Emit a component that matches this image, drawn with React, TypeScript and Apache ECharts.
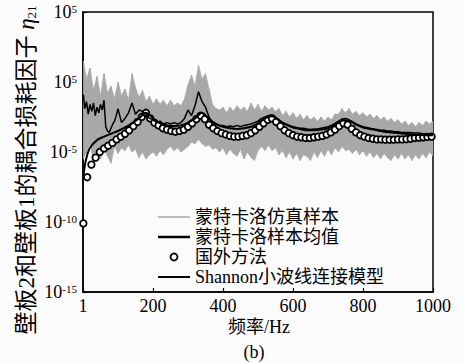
import React, { useEffect, useRef } from 'react';
import * as echarts from 'echarts';

const FONT = "'Liberation Serif', 'Times New Roman', 'Noto Sans CJK SC', serif";

// ---- axis ticks ----
const xTickValues = [0, 200, 400, 600, 800, 1000];
const xTickLabels = ['1', '200', '400', '600', '800', '1000'];
const yTickValues = [-15, -10, -5, 0, 5];
const yTickExps = ['-15', '-10', '-5', '5', '5'];

// ---- Monte Carlo sample band (log10 values) ----
const freqBand = [1, 10, 20, 30, 40, 50, 60, 70, 80, 90, 100, 110, 120, 130, 140, 150, 160, 170, 180, 190,
  200, 210, 220, 230, 240, 250, 260, 270, 280, 290, 300, 310, 320, 330, 340, 350, 360, 370, 380, 390,
  400, 410, 420, 430, 440, 450, 460, 470, 480, 490, 500, 510, 520, 530, 540, 550, 560, 570, 580, 590,
  600, 610, 620, 630, 640, 650, 660, 670, 680, 690, 700, 710, 720, 730, 740, 750, 760, 770, 780, 790,
  800, 810, 820, 830, 840, 850, 860, 870, 880, 890, 900, 910, 920, 930, 940, 950, 960, 970, 980, 990, 1000];
const bandUpper = [1.5, 0.2, 1.0, -0.6, 0.4, -1.0, 0.6, -0.8, -0.3, -1.2,
  0.0, -1.0, -0.5, -1.3, 0.6, -0.4, -1.1, -0.6, -1.4, -1.0,
  -1.6, -1.2, -1.6, -1.3, -1.7, -1.3, -1.7, -1.5, -1.7, -1.2,
  -0.2, 0.5, -0.3, 1.2, 0.2, 0.6, -0.5, -1.6, -1.9, -2.0,
  -1.8, -2.2, -1.8, -2.1, -1.7, -2.0, -1.8, -2.1, -1.5, -2.0,
  -1.6, -2.1, -1.7, -2.0, -1.8, -2.1, -1.9, -2.4, -2.1, -2.5,
  -2.2, -2.6, -2.3, -2.7, -2.4, -2.7, -2.5, -2.8, -2.5, -2.8,
  -2.5, -2.7, -2.3, -2.3, -1.9, -2.2, -1.9, -2.3, -2.1, -2.4,
  -2.2, -2.5, -2.3, -2.6, -2.4, -2.7, -2.5, -2.8, -2.6, -2.9,
  -2.7, -3.0, -2.8, -3.1, -2.9, -3.2, -2.9, -3.1, -2.8, -3.0, -2.8];
const bandLower = [-5.5, -5.0, -4.4, -5.8, -5.0, -5.5, -4.8, -5.3, -5.8, -4.6,
  -5.1, -4.7, -4.9, -4.5, -5.0, -4.8, -5.4, -5.0, -5.5, -5.2,
  -5.0, -5.3, -4.9, -5.2, -4.8, -4.6, -4.9, -4.7, -5.0, -4.8,
  -4.6, -4.3, -4.4, -4.1, -4.4, -4.6, -4.5, -4.8, -4.7, -5.0,
  -4.7, -5.2, -4.8, -5.1, -5.3, -4.8, -5.5, -5.0, -5.4, -5.6,
  -4.9, -4.6, -4.9, -4.5, -4.9, -4.7, -5.2, -4.9, -5.4, -5.0,
  -5.5, -5.1, -5.6, -5.2, -5.3, -5.6, -5.0, -5.4, -4.9, -5.3,
  -4.8, -5.2, -4.7, -5.0, -4.6, -4.9, -4.8, -5.1, -4.8, -5.2,
  -4.9, -5.3, -5.0, -5.4, -5.1, -5.5, -5.1, -5.4, -5.6, -5.2,
  -5.5, -5.1, -5.5, -5.2, -5.6, -5.2, -5.5, -5.1, -5.4, -5.0, -5.3];

// ---- Monte Carlo mean ----
const freqMean = [1, 5, 10, 15, 20, 25, 30, 35, 40, 45, 50, 55, 60, 65, 70, 75, 80, 85, 90, 95, 100,
  110, 120, 130, 140, 150, 160, 170, 180, 190,
  200, 210, 220, 230, 240, 250, 260, 270, 280, 290, 300, 310, 320, 330, 340, 350, 360, 370, 380, 390,
  400, 410, 420, 430, 440, 450, 460, 470, 480, 490, 500, 510, 520, 530, 540, 550, 560, 570, 580, 590,
  600, 610, 620, 630, 640, 650, 660, 670, 680, 690, 700, 710, 720, 730, 740, 750, 760, 770, 780, 790,
  800, 810, 820, 830, 840, 850, 860, 870, 880, 890, 900, 910, 920, 930, 940, 950, 960, 970, 980, 990, 1000];
const meanValues = [-0.9, -1.9, -1.4, -2.3, -1.6, -2.1, -1.5, -2.4, -1.8, -2.2, -1.6, -2.0, -1.3, -3.2, -3.5, -3.6, -3.3, -3.0, -2.8, -2.4, -1.9,
  -2.9, -2.6, -2.2, -1.5, -2.3, -2.0, -2.1, -2.3, -2.6,
  -2.7, -2.9, -2.8, -3.0, -2.9, -3.0, -2.9, -3.0, -2.9, -2.6,
  -2.0, -2.4, -1.7, -0.7, -1.4, -1.8, -2.5, -2.9, -3.0, -3.1,
  -3.1, -3.2, -3.15, -3.2, -3.1, -3.2, -3.1, -3.05, -3.0, -2.9,
  -2.8, -2.6, -2.5, -2.4, -2.35, -2.5, -2.7, -2.9, -3.0, -3.1,
  -3.2, -3.25, -3.3, -3.3, -3.35, -3.4, -3.35, -3.35, -3.3, -3.25,
  -3.2, -3.1, -2.95, -2.8, -2.65, -2.6, -2.7, -2.85, -3.0, -3.1,
  -3.2, -3.25, -3.3, -3.35, -3.4, -3.45, -3.45, -3.5, -3.5, -3.55,
  -3.55, -3.6, -3.6, -3.6, -3.62, -3.65, -3.65, -3.7, -3.7, -3.72, -3.72];

// ---- foreign method (circles) ----
const freqCircle = [1, 12, 24, 36, 48, 60, 72, 84, 96, 108, 120, 132, 144, 156, 168, 180, 192, 204, 216, 228,
  240, 252, 264, 276, 288, 300, 312, 324, 336, 348, 360, 372, 384, 396, 408, 420, 432, 444, 456, 468,
  480, 492, 504, 516, 528, 540, 552, 564, 576, 588, 600, 612, 624, 636, 648, 660, 672, 684, 696, 708,
  720, 732, 744, 756, 768, 780, 792, 804, 816, 828, 840, 852, 864, 876, 888, 900, 912, 924, 936, 948,
  960, 972, 984, 996];
const circleValues = [-10.1, -6.8, -5.9, -5.4, -5.0, -4.75, -4.55, -4.35, -4.1, -3.9,
  -3.7, -3.45, -3.15, -2.85, -2.5, -2.2, -2.6, -2.9, -3.1, -3.3,
  -3.4, -3.5, -3.55, -3.5, -3.4, -3.2, -2.95, -2.65, -2.4, -2.65,
  -3.05, -3.3, -3.5, -3.65, -3.75, -3.85, -3.9, -3.9, -3.85, -3.8,
  -3.65, -3.45, -3.2, -2.95, -2.7, -2.6, -2.85, -3.15, -3.45, -3.65,
  -3.8, -3.9, -3.95, -4.0, -4.0, -3.95, -3.9, -3.85, -3.75, -3.6,
  -3.4, -3.15, -2.95, -3.05, -3.35, -3.6, -3.8, -3.9, -4.0, -4.05,
  -4.1, -4.1, -4.12, -4.12, -4.12, -4.1, -4.1, -4.08, -4.05, -4.0,
  -3.98, -3.95, -3.92, -3.9];

// ---- Shannon wavelet model ----
const freqShannon = [1, 5, 10, 20, 40, 60, 80, 100, 120, 140, 160, 180, 200, 220, 240, 260, 280, 300, 320, 340,
  360, 380, 400, 420, 440, 460, 480, 500, 520, 540, 560, 580, 600, 620, 640, 660, 680, 700, 720, 740,
  760, 780, 800, 820, 840, 860, 880, 900, 920, 940, 960, 980, 1000];
const shannonValues = [-6.8, -6.0, -5.4, -4.7, -4.15, -3.9, -3.7, -3.5, -3.25, -2.95, -2.6, -2.2,
  -2.6, -2.95, -3.1, -3.15, -3.1, -2.9, -2.6, -2.2, -2.65, -3.0,
  -3.2, -3.3, -3.35, -3.3, -3.2, -2.95, -2.6, -2.45, -2.75, -3.05,
  -3.25, -3.35, -3.45, -3.45, -3.4, -3.3, -3.05, -2.75, -2.75, -3.05,
  -3.25, -3.35, -3.45, -3.55, -3.6, -3.65, -3.7, -3.75, -3.78, -3.8, -3.8];

const NAMES = ['蒙特卡洛仿真样本', '蒙特卡洛样本均值', '国外方法', 'Shannon小波线连接模型'];
const BAND_GRAY = '#a8a8a8';

export default function App() {
  const ref = useRef<HTMLDivElement>(null);
  useEffect(() => {
    document.body.style.margin = '0';
    const chart = echarts.init(ref.current as HTMLDivElement, null, { renderer: 'svg' });
    const zip = (xs: number[], ys: number[]) => xs.map((x, i) => [x, ys[i]]);
    const lineIcon = (t: number) => `path://M0,0L32,0L32,${t}L0,${t}Z`;
    chart.setOption({
      animation: false,
      backgroundColor: '#fbfbfb',
      textStyle: { fontFamily: FONT },
      grid: { left: 83, right: 30, top: 12, bottom: 71, show: true, borderColor: '#000', borderWidth: 1.5 },
      xAxis: {
        type: 'value', min: 0, max: 1000, interval: 200,
        axisLine: { show: true, onZero: false, lineStyle: { color: '#000', width: 1.5 } },
        axisTick: { show: true, inside: true, length: 4, lineStyle: { color: '#000', width: 1.2 } },
        splitLine: { show: false },
        axisLabel: {
          margin: 5, fontSize: 18, color: '#000', fontFamily: FONT,
          formatter: (v: number) => xTickLabels[xTickValues.indexOf(v)] ?? '',
        },
      },
      yAxis: {
        type: 'value', min: -15, max: 5, interval: 5,
        axisLine: { show: true, onZero: false, lineStyle: { color: '#000', width: 1.5 } },
        axisTick: { show: true, inside: true, length: 4, lineStyle: { color: '#000', width: 1.2 } },
        splitLine: { show: false },
        axisLabel: {
          margin: 6, color: '#000',
          formatter: (v: number) => `{b|10}{s|${yTickExps[yTickValues.indexOf(v)] ?? ''}}`,
          rich: {
            b: { fontSize: 18, fontFamily: FONT, color: '#000', lineHeight: 18 },
            s: { fontSize: 11, fontFamily: FONT, color: '#000', verticalAlign: 'top', lineHeight: 11 },
          },
        },
      },
      legend: {
        orient: 'vertical', left: 153, top: 202, itemGap: 0, itemWidth: 32, itemHeight: 7,
        selectedMode: false,
        textStyle: { fontSize: 18, lineHeight: 20, fontFamily: FONT, color: '#000' },
        data: [
          { name: NAMES[0], icon: lineIcon(2), itemStyle: { color: '#bcbcbc', borderWidth: 0 } },
          { name: NAMES[1], icon: lineIcon(2.5), itemStyle: { color: '#000', borderWidth: 0 } },
          { name: NAMES[2], icon: 'circle', itemStyle: { color: '#fff', borderColor: '#000', borderWidth: 1.8 } },
          { name: NAMES[3], icon: lineIcon(2), itemStyle: { color: '#000', borderWidth: 0 } },
        ],
      },
      graphic: [
        {
          type: 'text', x: 26, y: 170, rotation: Math.PI / 2,
          style: {
            text: '壁板2和壁板1的耦合损耗因子 {i|η}{sub|21}',
            font: `23px ${FONT}`, fill: '#000',
            textAlign: 'center', textVerticalAlign: 'middle', align: 'center', verticalAlign: 'middle',
            rich: {
              i: { fontSize: 23, fontStyle: 'italic', fontFamily: FONT, fill: '#000' },
              sub: { fontSize: 13, fontFamily: FONT, verticalAlign: 'bottom', fill: '#000' },
            },
          },
        },
        {
          type: 'text', x: 259, y: 327,
          style: {
            text: '频率/Hz', font: `18px ${FONT}`, fill: '#000',
            textAlign: 'center', textVerticalAlign: 'middle', align: 'center', verticalAlign: 'middle',
          },
        },
        {
          type: 'text', x: 254, y: 352,
          style: {
            text: '(b)', font: `18px ${FONT}`, fill: '#000',
            textAlign: 'center', textVerticalAlign: 'middle', align: 'center', verticalAlign: 'middle',
          },
        },
      ],
      series: [
        {
          name: NAMES[0], type: 'custom', clip: true,
          data: freqBand.map((f, i) => [f, bandLower[i], bandUpper[i]]),
          encode: { x: 0, y: [1, 2] },
          itemStyle: { color: BAND_GRAY },
          renderItem: (params: any, api: any) => {
            const i = params.dataIndexInside;
            if (i >= freqBand.length - 1) return null;
            const p0u = api.coord([api.value(0, i), api.value(2, i)]);
            const p1u = api.coord([api.value(0, i + 1), api.value(2, i + 1)]);
            const p1l = api.coord([api.value(0, i + 1), api.value(1, i + 1)]);
            const p0l = api.coord([api.value(0, i), api.value(1, i)]);
            return {
              type: 'polygon',
              shape: { points: [p0u, p1u, p1l, p0l] },
              style: { fill: BAND_GRAY, stroke: BAND_GRAY, lineWidth: 0.8 },
            };
          },
        },
        {
          name: NAMES[1], type: 'line', data: zip(freqMean, meanValues), symbol: 'none',
          lineStyle: { color: '#000', width: 1.5 }, itemStyle: { color: '#000' },
        },
        {
          name: NAMES[3], type: 'line', data: zip(freqShannon, shannonValues), symbol: 'none', smooth: 0.3,
          lineStyle: { color: '#000', width: 2 }, itemStyle: { color: '#000' },
        },
        {
          name: NAMES[2], type: 'scatter', data: zip(freqCircle, circleValues),
          symbol: 'circle', symbolSize: 6.5,
          itemStyle: { color: '#fff', borderColor: '#000', borderWidth: 1.8, opacity: 1 },
        },
      ],
    });
    return () => chart.dispose();
  }, []);
  return <div ref={ref} style={{ width: 463, height: 363 }} />;
}
